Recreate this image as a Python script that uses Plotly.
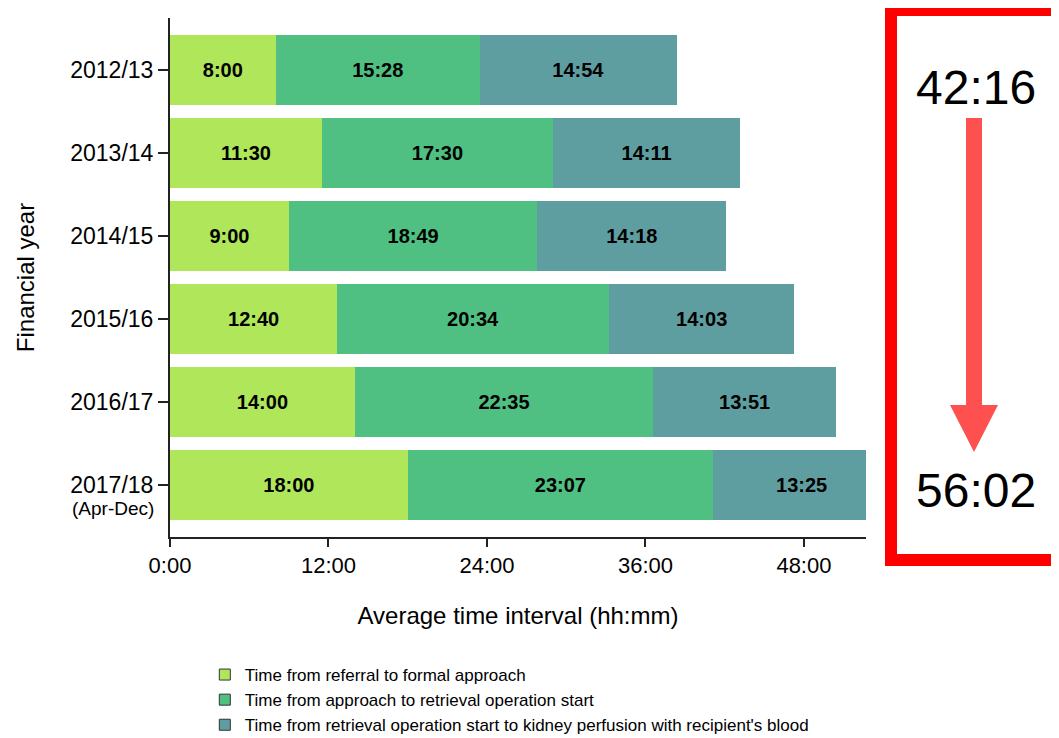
import plotly.graph_objects as go

years = ["2012/13", "2013/14", "2014/15", "2015/16", "2016/17", "2017/18"]
referral_to_approach = ["8:00", "11:30", "9:00", "12:40", "14:00", "18:00"]
approach_to_retrieval = ["15:28", "17:30", "18:49", "20:34", "22:35", "23:07"]
retrieval_to_perfusion = ["14:54", "14:11", "14:18", "14:03", "13:51", "13:25"]
series_names = [
    "Time from referral to formal approach",
    "Time from approach to retrieval operation start",
    "Time from retrieval operation start to kidney perfusion with recipient's blood",
]
series_colors = ["#AFE65A", "#4FC082", "#5F9EA0"]
x_tick_vals = [0, 12, 24, 36, 48]
x_tick_text = ["0:00", "12:00", "24:00", "36:00", "48:00"]
total_before = "42:16"
total_after = "56:02"


def to_hours(s):
    h, m = s.split(":")
    return int(h) + int(m) / 60.0


FONT = "Liberation Sans, Arial, sans-serif"

fig = go.Figure()
for name, vals, col in zip(series_names,
                           [referral_to_approach, approach_to_retrieval, retrieval_to_perfusion],
                           series_colors):
    fig.add_trace(go.Bar(
        y=years, x=[to_hours(v) for v in vals], orientation="h",
        marker=dict(color=col, line=dict(width=0)),
        text=vals, textposition="inside", insidetextanchor="middle",
        textfont=dict(family=FONT, size=20, color="black", weight="bold"),
        name=name, showlegend=False, cliponaxis=True,
    ))
    # legend entry (square with border)
    fig.add_trace(go.Scatter(
        x=[None], y=[None], mode="markers", name=name,
        marker=dict(symbol="square", size=11, color=col, line=dict(color="#333333", width=1)),
        showlegend=True,
    ))

# page body has an 8px default margin; figure coordinates are page minus 8
W, H = 1043, 738
fig.update_layout(
    barmode="stack", bargap=0.16,
    width=W, height=H,
    margin=dict(l=162, r=W - 162 - 696, t=10, b=H - 10 - 519),
    paper_bgcolor="white", plot_bgcolor="white",
    font=dict(family=FONT, color="black"),
    uniformtext=dict(minsize=20, mode="show"),
    legend=dict(
        xref="paper", yref="container",
        x=0.05, y=1 - 649 / H, xanchor="left", yanchor="top", traceorder="normal",
        font=dict(family=FONT, size=17, color="black"),
        itemwidth=30, bgcolor="rgba(0,0,0,0)",
    ),
    xaxis=dict(
        range=[0, 52.7], tickvals=x_tick_vals, ticktext=x_tick_text,
        ticks="outside", ticklen=8, tickwidth=2, tickcolor="#222",
        showline=True, linewidth=2, linecolor="#222", showgrid=False, zeroline=False,
        tickfont=dict(size=22), title=dict(text="Average time interval (hh:mm)", font=dict(size=24), standoff=30),
    ),
    yaxis=dict(
        categoryorder="array", categoryarray=years, range=[5.63, -0.63],
        ticks="outside", ticklen=10, tickwidth=2, tickcolor="#222",
        showline=True, linewidth=2, linecolor="#222", showgrid=False, zeroline=False,
        tickfont=dict(size=23), title=dict(text="Financial year", font=dict(size=24), standoff=29),
    ),
)

# "(Apr-Dec)" sub-label under the last tick
fig.add_annotation(text="(Apr-Dec)", xref="paper", yref="y", x=(113 - 170) / 696, y=years[-1],
                   xanchor="center", yanchor="middle", yshift=-24, showarrow=False,
                   font=dict(size=19, color="black"))


def px_x(p):
    return (p - 170) / 696.0


def px_y(p):
    return (537 - p) / 519.0


# red box
fig.add_shape(type="rect", xref="paper", yref="paper",
              x0=px_x(891), x1=px_x(1080), y0=px_y(560), y1=px_y(10),
              line=dict(color="#FF0000", width=12), fillcolor="rgba(0,0,0,0)", layer="above")
# arrow shaft
fig.add_shape(type="rect", xref="paper", yref="paper",
              x0=px_x(966), x1=px_x(982), y0=px_y(406), y1=px_y(118),
              line=dict(width=0), fillcolor="#FF5050")
# arrow head
fig.add_shape(type="path", xref="paper", yref="paper",
              path=f"M {px_x(950)} {px_y(405)} L {px_x(998)} {px_y(405)} L {px_x(974)} {px_y(452)} Z",
              line=dict(width=0), fillcolor="#FF5050")

fig.add_annotation(text=total_before, xref="paper", yref="paper", x=px_x(976), y=px_y(87),
                   xanchor="center", yanchor="middle", showarrow=False, font=dict(size=48, color="black"))
fig.add_annotation(text=total_after, xref="paper", yref="paper", x=px_x(976), y=px_y(490),
                   xanchor="center", yanchor="middle", showarrow=False, font=dict(size=48, color="black"))

fig.write_html("out.html")
